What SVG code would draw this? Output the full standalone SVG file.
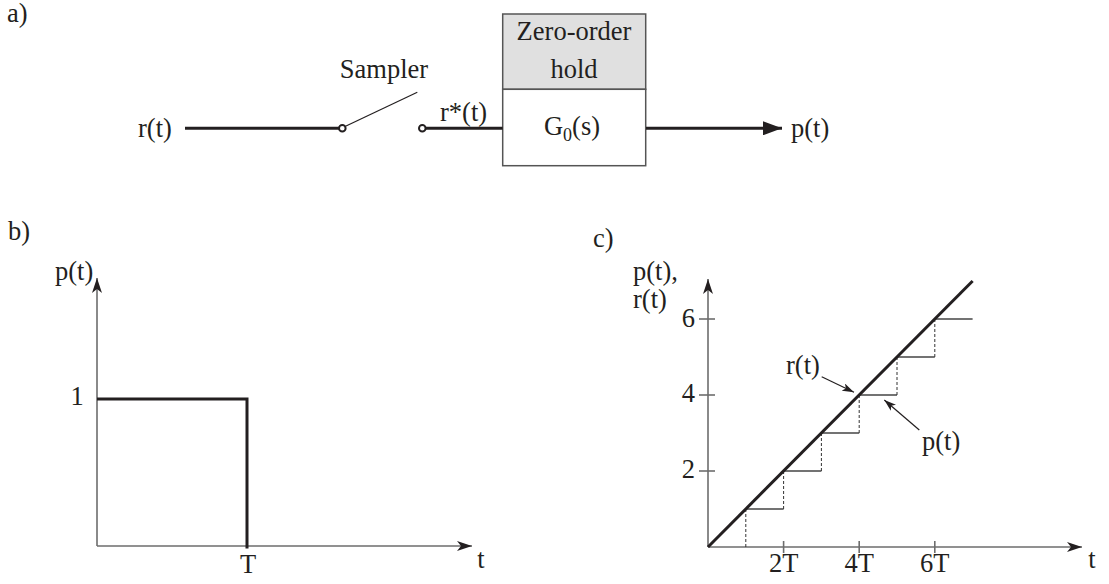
<svg xmlns="http://www.w3.org/2000/svg" width="1109" height="584" viewBox="0 0 1109 584">
<style>
.t{font-family:"Liberation Serif","Times New Roman",serif;font-size:26.5px;fill:#231f20}
.m{text-anchor:middle}
.e{text-anchor:end}
.thick{stroke:#231f20;stroke-width:3;fill:none}
.axis{stroke:#6d6d6d;stroke-width:1.6;fill:none}
.thin{stroke:#231f20;stroke-width:1.2;fill:none}
.stair{stroke:#444;stroke-width:1.3;fill:none}
.dash{stroke:#333;stroke-width:1;stroke-dasharray:3 2;fill:none}
.node{fill:#fff;stroke:#231f20;stroke-width:2}
</style>
<defs>
<marker id="ax" markerUnits="userSpaceOnUse" viewBox="0 0 15 10" markerWidth="15" markerHeight="10" refX="15" refY="5" orient="auto">
<path d="M0,0 L15,5 L0,10 L4,5 Z" fill="#231f20"/>
</marker>
<marker id="big" markerUnits="userSpaceOnUse" viewBox="0 0 19 14" markerWidth="19" markerHeight="14" refX="19" refY="7" orient="auto">
<path d="M0,0 L19,7 L0,14 Z" fill="#231f20"/>
</marker>
<marker id="ptr" markerUnits="userSpaceOnUse" viewBox="0 0 12 8" markerWidth="12" markerHeight="8" refX="12" refY="4" orient="auto">
<path d="M0,0 L12,4 L0,8 L3,4 Z" fill="#231f20"/>
</marker>
</defs>

<!-- panel labels -->
<text class="t" x="7" y="22">a)</text>
<text class="t" x="8" y="240">b)</text>
<text class="t" x="593" y="247">c)</text>

<!-- Panel a nodes -->
<g id="input">
<text class="t" x="138" y="137">r(t)</text>
</g>
<g id="sampler">
<text class="t m" x="384" y="78">Sampler</text>
<line class="thin" x1="345" y1="126.5" x2="417.3" y2="92.3"/>
<circle class="node" cx="342.3" cy="128.3" r="3.3"/>
<circle class="node" cx="422.3" cy="128.3" r="3.3"/>
</g>
<g id="zoh">
<rect x="502.7" y="14" width="143" height="75.3" fill="#e0e0e0" stroke="#555" stroke-width="1.5"/>
<rect x="502.7" y="89.3" width="143" height="76.4" fill="#fff" stroke="#555" stroke-width="1.5"/>
<text class="t m" x="574" y="40">Zero-order</text>
<text class="t m" x="574" y="78">hold</text>
<text class="t m" x="572" y="135">G<tspan font-size="18" dy="6">0</tspan><tspan dy="-6">(s)</tspan></text>
</g>
<g id="output">
<text class="t" x="791" y="137">p(t)</text>
</g>
<g id="rstar-label">
<text class="t" x="440" y="121">r*(t)</text>
</g>

<!-- connectors -->
<g id="connectors">
<line class="thick" x1="185" y1="128.3" x2="339" y2="128.3"/>
<line class="thick" x1="425.6" y1="128.3" x2="502.7" y2="128.3"/>
<line class="thick" x1="646" y1="128.3" x2="782" y2="128.3" marker-end="url(#big)"/>
</g>

<!-- Panel b -->
<g id="plot-b">
<line class="axis" x1="97" y1="546" x2="97" y2="278" marker-end="url(#ax)"/>
<line class="axis" x1="97" y1="546" x2="472" y2="546" marker-end="url(#ax)"/>
<polyline class="thick" points="97,399 247,399 247,548.5"/>
<text class="t m" x="77" y="405">1</text>
<text class="t" x="55" y="280">p(t)</text>
<text class="t m" x="248" y="573">T</text>
<text class="t m" x="481" y="568">t</text>
</g>

<!-- Panel c -->
<g id="plot-c">
<line class="axis" x1="708" y1="547" x2="708" y2="279" marker-end="url(#ax)"/>
<line class="axis" x1="708" y1="547" x2="1082" y2="547" marker-end="url(#ax)"/>
<g class="axis">
<line x1="699" y1="319" x2="715" y2="319"/>
<line x1="699" y1="395" x2="715" y2="395"/>
<line x1="699" y1="471" x2="715" y2="471"/>
<line x1="783.6" y1="541" x2="783.6" y2="553"/>
<line x1="859.2" y1="541" x2="859.2" y2="553"/>
<line x1="934.8" y1="541" x2="934.8" y2="553"/>
</g>
<text class="t e" x="695" y="327">6</text>
<text class="t e" x="695" y="402">4</text>
<text class="t e" x="695" y="478">2</text>
<text class="t" x="633" y="280">p(t),</text>
<text class="t" x="633" y="308">r(t)</text>
<text class="t m" x="783.6" y="572">2T</text>
<text class="t m" x="859.2" y="572">4T</text>
<text class="t m" x="934.8" y="572">6T</text>
<text class="t m" x="1092" y="568">t</text>
<g class="stair">
<line x1="745.8" y1="509" x2="783.6" y2="509"/>
<line x1="783.6" y1="471" x2="821.4" y2="471"/>
<line x1="821.4" y1="433" x2="859.2" y2="433"/>
<line x1="859.2" y1="395" x2="897" y2="395"/>
<line x1="897" y1="357" x2="934.8" y2="357"/>
<line x1="934.8" y1="319" x2="972.6" y2="319"/>
</g>
<g class="dash">
<line x1="745.8" y1="547" x2="745.8" y2="509"/>
<line x1="783.6" y1="509" x2="783.6" y2="471"/>
<line x1="821.4" y1="471" x2="821.4" y2="433"/>
<line x1="859.2" y1="433" x2="859.2" y2="395"/>
<line x1="897" y1="395" x2="897" y2="357"/>
<line x1="934.8" y1="357" x2="934.8" y2="319"/>
</g>
<line class="thick" x1="708" y1="547" x2="972.6" y2="281"/>
<text class="t" x="786" y="374">r(t)</text>
<line class="thin" x1="821.7" y1="376.7" x2="854" y2="392.3" marker-end="url(#ptr)"/>
<text class="t" x="922" y="450">p(t)</text>
<line class="thin" x1="919.3" y1="430" x2="884.3" y2="400" marker-end="url(#ptr)"/>
</g>
</svg>
